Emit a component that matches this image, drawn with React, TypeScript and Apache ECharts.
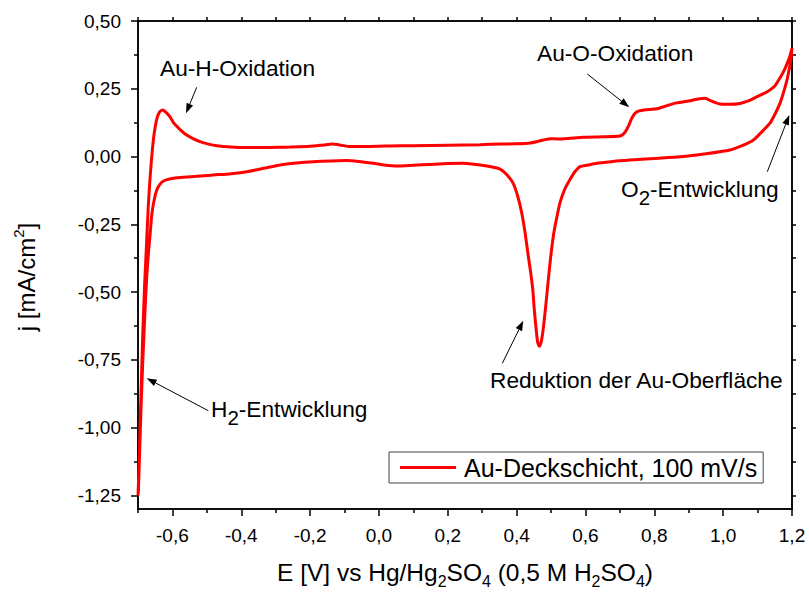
import React, { useEffect, useRef } from "react";
import * as echarts from "echarts";

// ---- data ----
const seriesName = "Au-Deckschicht, 100 mV/s";

// anodic sweep (-0.7 V -> 1.2 V)
const anodicE = [
  -0.7, -0.697, -0.694, -0.69, -0.686, -0.681, -0.676, -0.67, -0.665, -0.66,
  -0.655, -0.65, -0.644, -0.637, -0.629, -0.62, -0.608, -0.597, -0.58, -0.563,
  -0.54, -0.52, -0.495, -0.471, -0.43, -0.384, -0.33, -0.287, -0.258, -0.2,
  -0.16, -0.135, -0.11, -0.085, -0.04, 0.0, 0.061, 0.1, 0.2, 0.294,
  0.352, 0.4, 0.44, 0.468, 0.497, 0.52, 0.55, 0.594, 0.65, 0.7,
  0.712, 0.724, 0.736, 0.749, 0.77, 0.807, 0.835, 0.865, 0.9, 0.93,
  0.948, 0.965, 0.99, 1.02, 1.049, 1.075, 1.097, 1.127, 1.15, 1.165,
  1.178, 1.188, 1.195, 1.2,
];
const anodicJ = [
  -1.25, -1.15, -1.0, -0.82, -0.65, -0.48, -0.345, -0.18, -0.08, 0.0,
  0.065, 0.11, 0.145, 0.165, 0.172, 0.165, 0.148, 0.125, 0.102, 0.083,
  0.066, 0.055, 0.046, 0.04, 0.035, 0.033, 0.033, 0.034, 0.035, 0.038,
  0.043, 0.046, 0.042, 0.037, 0.037, 0.038, 0.04, 0.04, 0.042, 0.044,
  0.046, 0.047, 0.05, 0.058, 0.066, 0.065, 0.067, 0.071, 0.073, 0.076,
  0.085, 0.11, 0.145, 0.165, 0.172, 0.176, 0.187, 0.198, 0.205, 0.213,
  0.215, 0.205, 0.194, 0.193, 0.196, 0.206, 0.22, 0.238, 0.26, 0.29,
  0.32, 0.35, 0.375, 0.4,
];

// cathodic sweep (1.2 V -> -0.7 V)
const cathodicE = [
  1.196, 1.19, 1.185, 1.175, 1.165, 1.15, 1.136, 1.11, 1.088, 1.055,
  1.02, 0.95, 0.875, 0.8, 0.729, 0.68, 0.633, 0.605, 0.584, 0.568,
  0.555, 0.54, 0.526, 0.515, 0.507, 0.499, 0.492, 0.485, 0.478, 0.472,
  0.466, 0.461, 0.456, 0.451, 0.447, 0.44, 0.434, 0.425, 0.415, 0.404,
  0.39, 0.371, 0.352, 0.323, 0.294, 0.245, 0.2, 0.148, 0.1, 0.052,
  0.015, -0.016, -0.06, -0.094, -0.14, -0.191, -0.24, -0.287, -0.33, -0.384,
  -0.43, -0.481, -0.53, -0.578, -0.605, -0.626, -0.638, -0.646, -0.653, -0.66,
  -0.665, -0.669, -0.675, -0.68, -0.686, -0.691, -0.695, -0.698, -0.699,
];
const cathodicJ = [
  0.35, 0.31, 0.28, 0.235, 0.196, 0.155, 0.123, 0.088, 0.061, 0.04,
  0.024, 0.01, -0.001, -0.007, -0.013, -0.018, -0.025, -0.032, -0.037, -0.058,
  -0.085, -0.12, -0.17, -0.235, -0.29, -0.37, -0.455, -0.545, -0.628, -0.68,
  -0.7, -0.685, -0.628, -0.56, -0.492, -0.42, -0.369, -0.285, -0.209, -0.15,
  -0.099, -0.066, -0.046, -0.037, -0.031, -0.025, -0.026, -0.029, -0.032, -0.035,
  -0.031, -0.025, -0.018, -0.015, -0.016, -0.019, -0.024, -0.031, -0.042, -0.056,
  -0.063, -0.068, -0.073, -0.077, -0.082, -0.09, -0.105, -0.125, -0.16, -0.215,
  -0.29, -0.345, -0.45, -0.58, -0.75, -0.92, -1.08, -1.2, -1.24,
];

const xMajorTicks = [-0.6, -0.4, -0.2, 0, 0.2, 0.4, 0.6, 0.8, 1.0, 1.2];
const xMinorTicks = [-0.7, -0.5, -0.3, -0.1, 0.1, 0.3, 0.5, 0.7, 0.9, 1.1];
const yMajorTicks = [-1.25, -1.0, -0.75, -0.5, -0.25, 0, 0.25, 0.5];
const yMinorTicks = [-1.125, -0.875, -0.625, -0.375, -0.125, 0.125, 0.375];

const FONT = "'Liberation Sans', Arial, Helvetica, sans-serif";

function arrow(x1: number, y1: number, x2: number, y2: number) {
  const dx = x2 - x1;
  const dy = y2 - y1;
  const L = Math.hypot(dx, dy);
  const ux = dx / L;
  const uy = dy / L;
  const hl = 10;
  const hw = 3.5;
  const bx = x2 - ux * hl;
  const by = y2 - uy * hl;
  const px = -uy;
  const py = ux;
  return [
    { type: "line", silent: true, shape: { x1, y1, x2: bx, y2: by }, style: { stroke: "#000", lineWidth: 1 } },
    {
      type: "polygon",
      silent: true,
      shape: { points: [[x2, y2], [bx + px * hw, by + py * hw], [bx - px * hw, by - py * hw]] },
      style: { fill: "#000" },
    },
  ];
}

const annRich = {
  m: { fontSize: 22.7, fontFamily: FONT, color: "#000", lineHeight: 23, verticalAlign: "middle" },
  s: { fontSize: 20.5, fontFamily: FONT, color: "#000", lineHeight: 20, padding: [17, 0, 0, 0], verticalAlign: "middle" },
};

function annText(text: string, x: number, y: number) {
  return {
    type: "text",
    silent: true,
    x,
    y,
    style: {
      text,
      rich: annRich,
      align: "left",
      verticalAlign: "middle",
      fill: "#000",
      font: `22.7px ${FONT}`,
    },
  };
}

function lineCfg(show: boolean) {
  return { show, onZero: false, lineStyle: { color: "#000", width: 1.5 } };
}

export default function App() {
  const ref = useRef<HTMLDivElement>(null);
  useEffect(() => {
    if (!ref.current) return;
    const chart = echarts.init(ref.current, null, { renderer: "svg" });
    const loop = anodicE
      .map((e, i) => [e, anodicJ[i]])
      .concat(cathodicE.map((e, i) => [e, cathodicJ[i]]));

    const tickStyle = { color: "#000", width: 1.5 };

    const option: any = {
      animation: false,
      backgroundColor: "#fff",
      grid: {
        left: 138,
        top: 21,
        width: 654,
        height: 488,
        containLabel: false,
        outerBoundsMode: "none",
        show: true,
        borderColor: "#000",
        borderWidth: 1.5,
        backgroundColor: "transparent",
      },
      legend: {
        show: true,
        data: [seriesName],
        left: 389,
        top: 452,
        padding: [3, 6, 3, 11],
        itemWidth: 56,
        itemHeight: 3,
        icon: "rect",
        borderColor: "#444",
        borderWidth: 1,
        borderRadius: 0,
        textStyle: { fontSize: 25, color: "#000", fontFamily: FONT, padding: [0, 0, 0, 3] },
      },
      xAxis: [
        {
          type: "value",
          position: "bottom",
          min: -0.7,
          max: 1.2,
          axisLine: lineCfg(true),
          axisTick: { show: true, inside: false, length: 7, customValues: xMajorTicks, lineStyle: tickStyle },
          axisLabel: {
            show: true,
            customValues: xMajorTicks,
            formatter: (v: number) => v.toFixed(1).replace(".", ","),
            fontSize: 19,
            color: "#000",
            fontFamily: FONT,
            margin: 17,
          },
          splitLine: { show: false },
          name: "{m|E [V] vs Hg/Hg}{s|2}{m|SO}{s|4}{m| (0,5 M H}{s|2}{m|SO}{s|4}{m|)}",
          nameLocation: "middle",
          nameGap: 50,
          nameTextStyle: {
            rich: {
              m: { fontSize: 24.5, fontFamily: FONT, color: "#000", lineHeight: 26, verticalAlign: "middle" },
              s: { fontSize: 16, fontFamily: FONT, color: "#000", lineHeight: 16, padding: [18, 0, 0, 0], verticalAlign: "middle" },
            },
          },
        },
        {
          type: "value",
          position: "bottom",
          min: -0.7,
          max: 1.2,
          axisLine: lineCfg(false),
          axisTick: { show: true, inside: false, length: 4, customValues: xMinorTicks, lineStyle: tickStyle },
          axisLabel: { show: false },
          splitLine: { show: false },
        },
        {
          type: "value",
          position: "top",
          min: -0.7,
          max: 1.2,
          axisLine: lineCfg(true),
          axisTick: { show: true, inside: false, length: 4, customValues: xMajorTicks.concat(xMinorTicks), lineStyle: tickStyle },
          axisLabel: { show: false },
          splitLine: { show: false },
        },
      ],
      yAxis: [
        {
          type: "value",
          position: "left",
          min: -1.3,
          max: 0.5,
          axisLine: lineCfg(true),
          axisTick: { show: true, inside: false, length: 7, customValues: yMajorTicks, lineStyle: tickStyle },
          axisLabel: {
            show: true,
            customValues: yMajorTicks,
            formatter: (v: number) => v.toFixed(2).replace(".", ","),
            fontSize: 19,
            color: "#000",
            fontFamily: FONT,
            margin: 17,
          },
          splitLine: { show: false },
          name: "{m|j [mA/cm}{s|2}{m|]}",
          nameLocation: "middle",
          nameGap: 99,
          nameTextStyle: {
            padding: [0, 24, 0, 0],
            rich: {
              m: { fontSize: 24, fontFamily: FONT, color: "#000", lineHeight: 26, verticalAlign: "middle" },
              s: { fontSize: 15, fontFamily: FONT, color: "#000", lineHeight: 15, padding: [0, 0, 15, 0], verticalAlign: "middle" },
            },
          },
        },
        {
          type: "value",
          position: "left",
          min: -1.3,
          max: 0.5,
          axisLine: lineCfg(false),
          axisTick: { show: true, inside: false, length: 4, customValues: yMinorTicks, lineStyle: tickStyle },
          axisLabel: { show: false },
          splitLine: { show: false },
        },
        {
          type: "value",
          position: "right",
          min: -1.3,
          max: 0.5,
          axisLine: lineCfg(true),
          axisTick: { show: true, inside: false, length: 4, customValues: yMajorTicks.concat(yMinorTicks), lineStyle: tickStyle },
          axisLabel: { show: false },
          splitLine: { show: false },
        },
      ],
      series: [
        {
          type: "line",
          name: seriesName,
          data: loop,
          xAxisIndex: 0,
          yAxisIndex: 0,
          symbol: "none",
          showSymbol: false,
          smooth: 0.2,
          lineStyle: { color: "#ff0000", width: 3 },
          itemStyle: { color: "#ff0000" },
          clip: true,
        },
      ],
      graphic: [
        annText("{m|Au-H-Oxidation}", 160, 68),
        annText("{m|Au-O-Oxidation}", 537, 53),
        annText("{m|O}{s|2}{m|-Entwicklung}", 621, 189),
        annText("{m|Reduktion der Au-Oberfläche}", 490, 380),
        annText("{m|H}{s|2}{m|-Entwicklung}", 211, 409),
        ...arrow(196.7, 87.3, 186, 113.3),
        ...arrow(587.3, 74, 629.3, 107.3),
        ...arrow(767.3, 171.7, 789.3, 115),
        ...arrow(502.3, 363.3, 523.3, 320.7),
        ...arrow(208.3, 410.7, 146.7, 378.3),
      ],
    };
    chart.setOption(option);
    return () => chart.dispose();
  }, []);
  return (
    <div
      ref={ref}
      style={{ position: "fixed", left: 0, top: 0, width: 809, height: 592, background: "#fff" }}
    />
  );
}
